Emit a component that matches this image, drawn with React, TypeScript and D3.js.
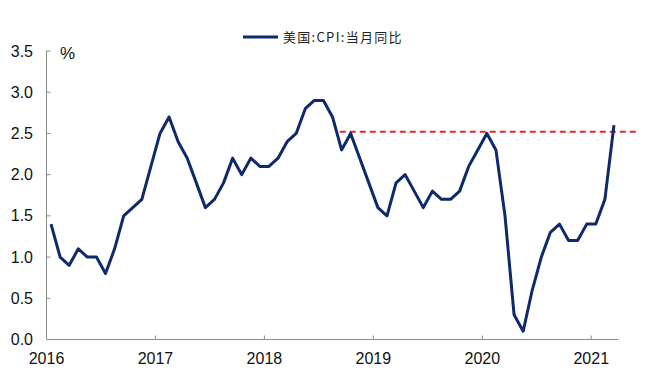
import React, { useEffect, useRef } from "react";
import * as d3 from "d3";

const months: string[] = [];
for (let y = 2016; y <= 2021; y++) {
  for (let m = 1; m <= 12; m++) {
    if (y === 2021 && m > 3) break;
    months.push(`${y}-${String(m).padStart(2, "0")}`);
  }
}

const cpiValues: number[] = [
  1.4, 1.0, 0.9, 1.1, 1.0, 1.0, 0.8, 1.1, 1.5, 1.6, 1.7, 2.1,
  2.5, 2.7, 2.4, 2.2, 1.9, 1.6, 1.7, 1.9, 2.2, 2.0, 2.2, 2.1,
  2.1, 2.2, 2.4, 2.5, 2.8, 2.9, 2.9, 2.7, 2.3, 2.5, 2.2, 1.9,
  1.6, 1.5, 1.9, 2.0, 1.8, 1.6, 1.8, 1.7, 1.7, 1.8, 2.1, 2.3,
  2.5, 2.3, 1.5, 0.3, 0.1, 0.6, 1.0, 1.3, 1.4, 1.2, 1.2, 1.4,
  1.4, 1.7, 2.6,
];

const yearLabels: string[] = ["2016", "2017", "2018", "2019", "2020", "2021"];
const yTicks: number[] = [0, 0.5, 1.0, 1.5, 2.0, 2.5, 3.0, 3.5];
const refLevel: number[] = [2.52];
const refSpan: number[] = [32.3, 65]; // month-index span of the dashed reference line
const legendLabel = "美国:CPI:当月同比";

export default function App() {
  const ref = useRef<SVGSVGElement>(null);
  useEffect(() => {
    const svg = d3.select(ref.current);
    svg.selectAll("*").remove();
    const left = 46.5, right = 618.5, top = 51, bottom = 339.5;
    const x = d3.scaleLinear().domain([0, months.length]).range([left, right]);
    const y = d3.scaleLinear().domain([0, 3.5]).range([bottom, top]);
    const axisColor = "#8c8c8c";

    svg.append("line").attr("x1", left).attr("x2", left).attr("y1", top).attr("y2", bottom)
      .attr("stroke", axisColor).attr("stroke-width", 1);
    svg.append("line").attr("x1", left).attr("x2", right).attr("y1", bottom).attr("y2", bottom)
      .attr("stroke", axisColor).attr("stroke-width", 1);

    yTicks.forEach((t) => {
      svg.append("line").attr("x1", left).attr("x2", left + 4).attr("y1", y(t)).attr("y2", y(t))
        .attr("stroke", axisColor);
      svg.append("text").attr("x", 33).attr("y", y(t)).attr("dy", "0.35em")
        .attr("text-anchor", "end").attr("font-family", "Liberation Sans, Arial, sans-serif")
        .attr("font-size", 16).attr("fill", "#111").text(t.toFixed(1));
    });

    yearLabels.forEach((lab, i) => {
      const xx = x(i * 12);
      if (i > 0) {
        svg.append("line").attr("x1", xx).attr("x2", xx).attr("y1", bottom).attr("y2", bottom - 4)
          .attr("stroke", axisColor);
      }
      svg.append("text").attr("x", xx).attr("y", 364).attr("text-anchor", "middle")
        .attr("font-family", "Liberation Sans, Arial, sans-serif").attr("font-size", 16)
        .attr("fill", "#111").text(lab);
    });

    svg.append("text").attr("x", 60).attr("y", 59).attr("font-family", "Liberation Sans, Arial, sans-serif")
      .attr("font-size", 17).attr("fill", "#111").text("%");

    svg.append("line").attr("x1", x(refSpan[0])).attr("x2", x(refSpan[1]))
      .attr("y1", y(refLevel[0])).attr("y2", y(refLevel[0]))
      .attr("stroke", "#e8262b").attr("stroke-width", 2).attr("stroke-dasharray", "6,4");

    const line = d3.line<number>().x((_, i) => x(i + 0.5)).y((d) => y(d));
    svg.append("path").datum(cpiValues).attr("d", line).attr("fill", "none")
      .attr("stroke", "#0e2a6b").attr("stroke-width", 3).attr("stroke-linejoin", "round");

    svg.append("line").attr("x1", 243).attr("x2", 278).attr("y1", 37).attr("y2", 37)
      .attr("stroke", "#0e2a6b").attr("stroke-width", 3);
    svg.append("text").attr("x", 283).attr("y", 42).attr("font-family", "Noto Sans CJK SC, sans-serif")
      .attr("font-size", 13).attr("letter-spacing", 1.3).attr("fill", "#222").text(legendLabel);
  }, []);
  return (
    <svg ref={ref} width={645} height={378}
      style={{ position: "absolute", left: 0, top: 0, background: "#fff" }} />
  );
}
